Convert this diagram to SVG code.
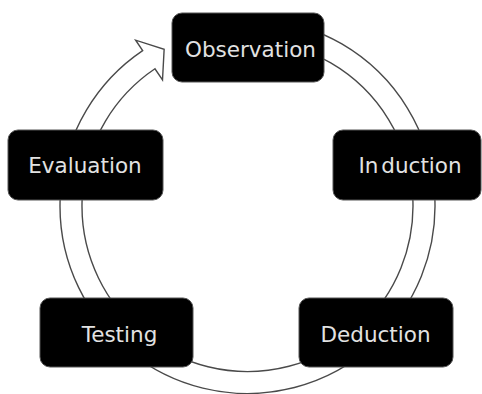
<svg xmlns="http://www.w3.org/2000/svg" width="482" height="394" viewBox="0 0 482 394">
<style>
.box{fill:#000;stroke:#555;stroke-width:1}
.lbl{fill:#e2e2e2;font-family:"DejaVu Sans",Verdana,sans-serif;font-size:21.5px;text-anchor:middle}
.ring{fill:#fff;stroke:#4a4a4a;stroke-width:1.4;stroke-linejoin:miter}
</style>
<rect width="482" height="394" fill="#fff"/>
<g id="connectors">
<path class="ring" d="M263.84,19.21 A187.5,187.5 0 1 1 142.65,50.56 L135.66,40.19 L164.14,49.34 L162.5,79.99 L154.95,68.79 A165.5,165.5 0 1 0 261.92,41.13 Z"/>
</g>
<g id="observation">
<rect class="box" x="172" y="13" width="152" height="69" rx="10"/>
<text class="lbl" x="250.5" y="57">Observation</text>
</g>
<g id="induction">
<rect class="box" x="333" y="130" width="148" height="70" rx="10"/>
<text class="lbl" x="410" y="173">In<tspan dx="3">duction</tspan></text>
</g>
<g id="deduction">
<rect class="box" x="299" y="298" width="154" height="69" rx="10"/>
<text class="lbl" x="375.5" y="342">Deduction</text>
</g>
<g id="testing">
<rect class="box" x="40" y="298" width="153" height="69" rx="10"/>
<text class="lbl" x="119.5" y="342">Testing</text>
</g>
<g id="evaluation">
<rect class="box" x="8" y="130" width="155" height="70" rx="10"/>
<text class="lbl" x="85" y="173">Evaluation</text>
</g>
</svg>
